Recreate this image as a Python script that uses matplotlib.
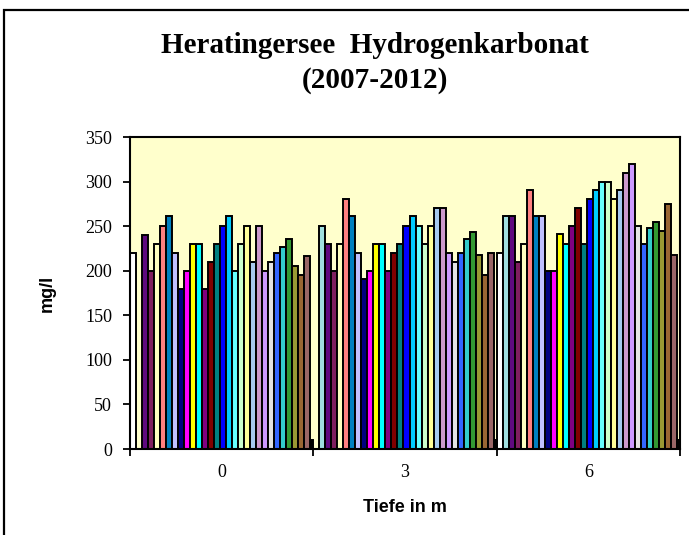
import numpy as np
import matplotlib
matplotlib.use("Agg")
import matplotlib.pyplot as plt
from matplotlib.patches import Rectangle

nan = np.nan
categories = ["0", "3", "6"]
# one value per sampling (31 series) for each depth
depth_0 = [220, nan, 240, 200, 230, 250, 261, 220, 180, 200, 230, 230, 180, 210, 230,
           250, 261, 200, 230, 250, 210, 250, 200, 210, 220, 227, 236, 205, 195, 216, 10]
depth_3 = [nan, 250, 230, 200, 230, 280, 261, 220, 191, 200, 230, 230, 200, 220, 230,
           250, 261, 250, 230, 250, 270, 270, 220, 210, 220, 236, 243, 218, 195, 220, 10]
depth_6 = [220, 261, 261, 210, 230, 290, 261, 261, 200, 200, 241, 230, 250, 270, 230,
           280, 290, 300, 300, 280, 290, 310, 320, 250, 230, 248, 255, 245, 275, 218, 10]
series_colors = ["#FFFFFF", "#A0E0E0", "#5F0A7F", "#7F1F5F", "#FFFFC0", "#FF8080",
                 "#0080C0", "#C0C0FF", "#000080", "#FF00FF", "#FFFF00", "#00FFFF",
                 "#800080", "#800000", "#008080", "#0000FF", "#00CCFF", "#66FFFF",
                 "#CCFFCC", "#FFFF99", "#A6CAF0", "#CC99CC", "#CC99FF", "#E3E3E3",
                 "#3366FF", "#33CCCC", "#339933", "#999933", "#996633", "#996666",
                 "#000000"]
y_ticks = [0, 50, 100, 150, 200, 250, 300, 350]

values = np.array([depth_0, depth_3, depth_6])  # shape (3 categories, 31 series)
n_series = values.shape[1]

fig = plt.figure(figsize=(6.89, 5.35), dpi=100)
ax = fig.add_axes([130/689, 1-449/535, 550/689, 312/535])
ax.set_facecolor("#FFFFCC")

w = 1/30.5
cat_pos = np.arange(len(categories))
for s in range(n_series):
    width = w if s < n_series - 1 else w/2
    ax.bar(cat_pos + s*w, values[:, s], width=width, align="edge",
           color=series_colors[s], edgecolor="black", linewidth=1.4, zorder=2)

ax.set_xlim(0, 3)
ax.set_ylim(0, 350)
ax.set_yticks(y_ticks)
ax.set_yticklabels([str(t) for t in y_ticks], family="Liberation Serif", fontsize=13)
ax.set_xticks([0, 1, 2, 3])
ax.set_xticklabels([])
ax.set_xticks(cat_pos + 0.5, minor=True)
ax.set_xticklabels(categories, minor=True, family="Liberation Serif", fontsize=13)
ax.tick_params(axis="x", which="minor", length=0, pad=11)
ax.tick_params(axis="y", which="major", pad=8)
ax.tick_params(axis="both", which="major", direction="out", length=5, width=1.3)
for sp in ax.spines.values():
    sp.set_linewidth(1.5)

ax.set_ylabel("mg/l", family="Liberation Sans", fontweight="bold", fontsize=13, labelpad=21)
ax.set_xlabel("Tiefe in m", family="Liberation Sans", fontweight="bold", fontsize=13, labelpad=13)

fig.text(375/689, 1-63/535, "Heratingersee  Hydrogenkarbonat\n(2007-2012)",
         ha="center", va="center", family="Liberation Serif", fontweight="bold",
         fontsize=21, linespacing=1.32)

fig.patches.append(Rectangle((4/689, -0.02), 1.1, (535-10)/535 + 0.02,
                             transform=fig.transFigure, fill=False,
                             edgecolor="black", linewidth=1.6))

fig.savefig("out.png", dpi=100)
